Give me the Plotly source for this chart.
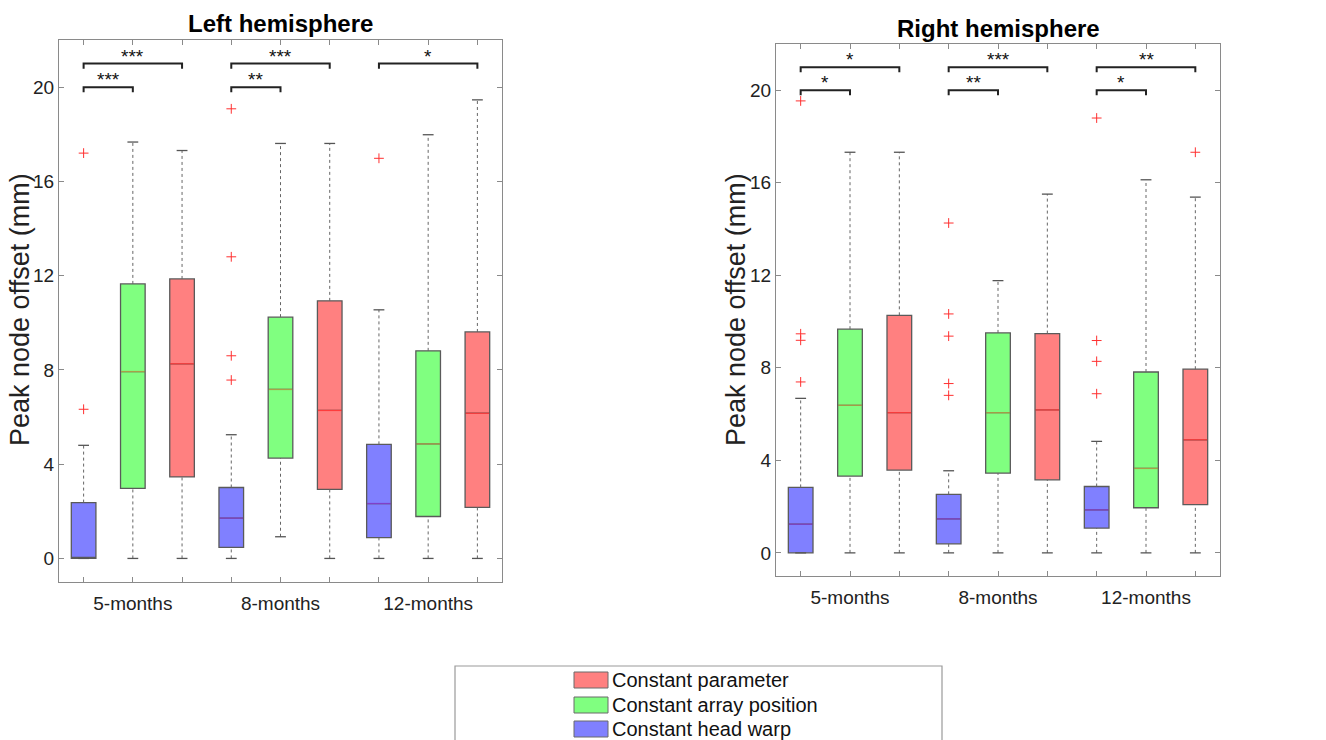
import plotly.graph_objects as go

# ---------------- data ----------------
months = ["5-months", "8-months", "12-months"]
conditions = ["Constant head warp", "Constant array position", "Constant parameter"]
titles = ["Left hemisphere", "Right hemisphere"]
y_label = "Peak node offset (mm)"
y_ticks = [0, 4, 8, 12, 16, 20]

# order within each month: head warp, array position, parameter
left_q1 = [0.00, 2.97, 3.46, 0.47, 4.26, 2.93, 0.88, 1.78, 2.17]
left_med = [0.00, 7.93, 8.26, 1.71, 7.17, 6.28, 2.33, 4.86, 6.16]
left_q3 = [2.37, 11.65, 11.86, 3.01, 10.24, 10.93, 4.84, 8.81, 9.61]
left_lo = [0.00, 0.00, 0.00, 0.00, 0.92, 0.00, 0.00, 0.00, 0.00]
left_hi = [4.80, 17.67, 17.31, 5.25, 17.61, 17.61, 10.55, 17.98, 19.46]
left_out = [[6.33, 17.20], [], [], [7.57, 8.60, 12.80, 19.08], [], [], [16.98], [], []]

right_q1 = [0.00, 3.32, 3.58, 0.39, 3.45, 3.16, 1.07, 1.95, 2.09]
right_med = [1.24, 6.38, 6.06, 1.47, 6.06, 6.18, 1.86, 3.65, 4.89]
right_q3 = [2.83, 9.67, 10.27, 2.53, 9.51, 9.48, 2.87, 7.82, 7.94]
right_lo = [0.00, 0.00, 0.00, 0.00, 0.00, 0.00, 0.00, 0.00, 0.00]
right_hi = [6.68, 17.32, 17.32, 3.55, 11.77, 15.51, 4.82, 16.13, 15.38]
right_out = [[7.39, 9.19, 9.47, 19.54], [], [], [6.81, 7.32, 9.37, 10.33, 14.26], [], [],
             [6.88, 8.28, 9.18, 18.80], [], [17.32]]

# significance brackets: (from box, to box, level, label)  boxes numbered 1..9
left_sig = [(1, 3, 21, "***"), (1, 2, 20, "***"), (4, 6, 21, "***"), (4, 5, 20, "**"), (7, 9, 21, "*")]
right_sig = [(1, 3, 21, "*"), (1, 2, 20, "*"), (4, 6, 21, "***"), (4, 5, 20, "**"),
             (7, 9, 21, "**"), (7, 8, 20, "*")]

# ---------------- style ----------------
FONT = "Liberation Sans, Arial, Helvetica, sans-serif"
fills = ["#8080FF", "#80FF80", "#FF8080"]
median_cols = ["#8040C8", "#A8A048", "#FF3C3C"]
BOX_W = 0.5
CAP_W = 0.11
W, H = 1326, 740

panels = [
    dict(q1=left_q1, med=left_med, q3=left_q3, lo=left_lo, hi=left_hi, out=left_out, sig=left_sig,
         xa="x", ya="y"),
    dict(q1=right_q1, med=right_med, q3=right_q3, lo=right_lo, hi=right_hi, out=right_out, sig=right_sig,
         xa="x2", ya="y2"),
]

fig = go.Figure()
positions = list(range(1, 10))

for p in panels:
    # boxes, one trace per condition
    for c in range(3):
        idx = [m * 3 + c for m in range(3)]
        fig.add_trace(go.Box(
            x=[positions[i] for i in idx],
            q1=[p["q1"][i] for i in idx],
            median=[p["med"][i] for i in idx],
            q3=[p["q3"][i] for i in idx],
            lowerfence=[p["q1"][i] for i in idx],
            upperfence=[p["q3"][i] for i in idx],
            width=BOX_W, whiskerwidth=0,
            fillcolor=fills[c], line=dict(color="#5a5a5a", width=1.3),
            boxpoints=False, showlegend=False, name=conditions[c],
            xaxis=p["xa"], yaxis=p["ya"], hoverinfo="skip",
        ))

for p in panels:
    # whiskers (dotted)
    wx, wy = [], []
    for i, pos in enumerate(positions):
        if p["lo"][i] < p["q1"][i]:
            wx += [pos, pos, None]
            wy += [p["lo"][i], p["q1"][i], None]
        if p["hi"][i] > p["q3"][i]:
            wx += [pos, pos, None]
            wy += [p["q3"][i], p["hi"][i], None]
    fig.add_trace(go.Scatter(x=wx, y=wy, mode="lines", line=dict(color="#666666", width=1, dash="dot"),
                             showlegend=False, hoverinfo="skip", xaxis=p["xa"], yaxis=p["ya"]))
    # caps
    cx, cy = [], []
    for i, pos in enumerate(positions):
        for v in (p["lo"][i], p["hi"][i]):
            cx += [pos - CAP_W, pos + CAP_W, None]
            cy += [v, v, None]
    fig.add_trace(go.Scatter(x=cx, y=cy, mode="lines", line=dict(color="#555555", width=1.3),
                             showlegend=False, hoverinfo="skip", xaxis=p["xa"], yaxis=p["ya"]))
    # medians (skip those lying on the box edge, as they are hidden by the outline)
    for c in range(3):
        mx, my = [], []
        for m in range(3):
            i = m * 3 + c
            if p["med"][i] <= p["q1"][i]:
                continue
            pos = positions[i]
            mx += [pos - BOX_W / 2 + 0.01, pos + BOX_W / 2 - 0.01, None]
            my += [p["med"][i], p["med"][i], None]
        fig.add_trace(go.Scatter(x=mx, y=my, mode="lines", line=dict(color=median_cols[c], width=1.3),
                                 showlegend=False, hoverinfo="skip", xaxis=p["xa"], yaxis=p["ya"]))
    # outliers
    ox, oy = [], []
    for i, pos in enumerate(positions):
        for v in p["out"][i]:
            ox.append(pos)
            oy.append(v)
    fig.add_trace(go.Scatter(x=ox, y=oy, mode="markers",
                             marker=dict(symbol="cross-thin", size=7, color="#FF3030",
                                         line=dict(color="#FF3030", width=1)),
                             showlegend=False, hoverinfo="skip", xaxis=p["xa"], yaxis=p["ya"]))
    # significance brackets
    bx, by = [], []
    for a, b, lvl, lab in p["sig"]:
        bx += [a, a, b, b, None]
        by += [lvl - 0.22, lvl, lvl, lvl - 0.22, None]
        fig.add_annotation(x=(a + b) / 2, y=lvl, text=lab, showarrow=False, yanchor="bottom",
                           yshift=-5, font=dict(family=FONT, size=19, color="#111111"),
                           xref=p["xa"], yref=p["ya"])
    fig.add_trace(go.Scatter(x=bx, y=by, mode="lines", line=dict(color="#222222", width=2),
                             showlegend=False, hoverinfo="skip", xaxis=p["xa"], yaxis=p["ya"]))

tick_text = []
for m in months:
    tick_text += ["", m, ""]

axis_common = dict(showline=True, linecolor="#8a8a8a", linewidth=1.2, mirror="ticks", ticks="inside",
                   ticklen=5, tickcolor="#8a8a8a", showgrid=False, zeroline=False,
                   tickfont=dict(family=FONT, size=19, color="#222222"))

fig.update_layout(
    width=W, height=H, margin=dict(l=0, r=0, t=0, b=0),
    plot_bgcolor="white", paper_bgcolor="white", showlegend=False,
    xaxis=dict(domain=[59 / W, 502 / W], range=[0.5, 9.5], tickvals=positions, ticktext=tick_text,
               anchor="y", ticklabelstandoff=4, **axis_common),
    yaxis=dict(domain=[1 - 582 / H, 1 - 40 / H], range=[-1, 22], tickvals=y_ticks, anchor="x",
               **axis_common),
    xaxis2=dict(domain=[776 / W, 1220 / W], range=[0.5, 9.5], tickvals=positions, ticktext=tick_text,
                anchor="y2", ticklabelstandoff=4, **axis_common),
    yaxis2=dict(domain=[1 - 576 / H, 1 - 44 / H], range=[-1, 22], tickvals=y_ticks, anchor="x2",
                **axis_common),
)

# titles
for t, cx, cy in [(titles[0], 280, 23), (titles[1], 998, 28)]:
    fig.add_annotation(x=cx / W, y=1 - cy / H, xref="paper", yref="paper", text="<b>" + t + "</b>",
                       showarrow=False, xanchor="center", yanchor="middle",
                       font=dict(family=FONT, size=24, color="#000000"))
# y axis labels
for cx in (20, 736):
    fig.add_annotation(x=cx / W, y=1 - 310 / H, xref="paper", yref="paper", text=y_label,
                       textangle=-90, showarrow=False, xanchor="center", yanchor="middle",
                       font=dict(family=FONT, size=27, color="#222222"))

# legend box (manual)
fig.add_shape(type="rect", xref="paper", yref="paper", x0=455 / W, x1=942 / W, y0=-0.01, y1=1 - 666 / H,
              line=dict(color="#9a9a9a", width=1.2), fillcolor="white")
for k, (c, ry) in enumerate([(2, 680), (1, 705), (0, 729)]):
    fig.add_shape(type="rect", xref="paper", yref="paper", x0=574 / W, x1=608 / W,
                  y0=1 - (ry + 8) / H, y1=1 - (ry - 8) / H,
                  line=dict(color="#6a6a6a", width=1), fillcolor=fills[c])
    fig.add_annotation(x=610 / W, y=1 - ry / H, xref="paper", yref="paper", text=conditions[c],
                       showarrow=False, xanchor="left", yanchor="middle",
                       font=dict(family=FONT, size=20, color="#111111"))

fig.write_html("out.html", config={"displayModeBar": False},
               post_script="document.body.style.margin='0';document.body.style.overflow='hidden';")
